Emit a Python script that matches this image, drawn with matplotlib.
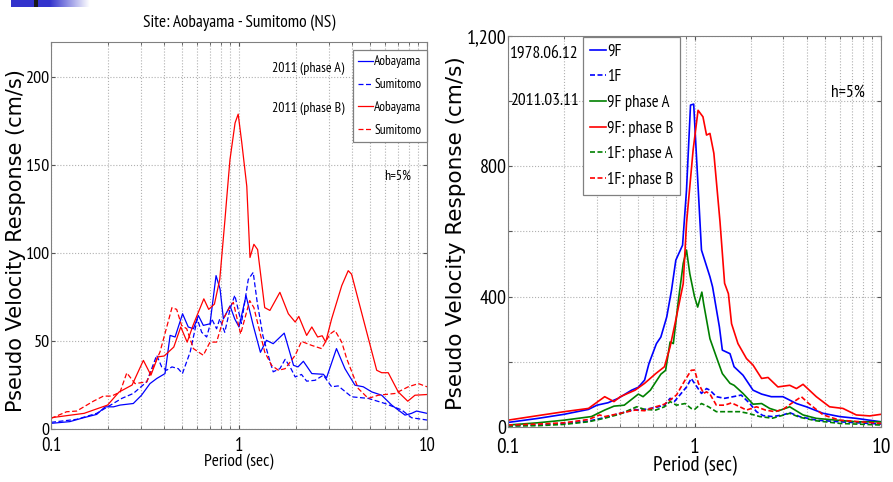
import numpy as np
import matplotlib.pyplot as plt
from matplotlib import font_manager
from matplotlib.ticker import FixedLocator, NullFormatter

# the reference uses a condensed Arial-like face; take the first one installed
avail = {f.name for f in font_manager.fontManager.ttflist}
cands = ['Liberation Sans Narrow', 'Arial Narrow', 'PT Sans Narrow', 'Roboto Condensed',
         'Archivo Narrow', 'Open Sans Condensed']
narrow = [n for n in cands if n in avail][:1] + ['Liberation Sans', 'DejaVu Sans']

# ---- left panel: Aobayama / Sumitomo (NS), 2011 ----
aob_a_T = [0.1, 0.126, 0.149, 0.175, 0.194, 0.215, 0.233, 0.274, 0.303, 0.336, 0.365, 0.404, 0.43, 0.457,
           0.501, 0.537, 0.572, 0.608, 0.646, 0.701, 0.755, 0.793, 0.826, 0.896, 0.949, 1.0, 1.09, 1.19,
           1.3, 1.4, 1.52, 1.74, 1.95, 2.06, 2.2, 2.44, 2.81, 2.92, 3.3, 3.66, 4.14, 4.58, 5.08, 5.74,
           6.49, 7.64, 8.28, 8.8, 10]
aob_a_v = [3.2, 4.2, 6.4, 8.3, 12.6, 12.6, 13.6, 14.5, 19.2, 25.8, 28.7, 31.5, 53.2, 52.3,
           65.5, 58, 57, 64.5, 58.9, 59.8, 87.2, 79.6, 62.6, 70, 62.6, 58, 75.8, 58.9,
           43.6, 50.4, 48.5, 54.5, 36.2, 35.3, 38.5, 31.5, 31.1, 29, 45.7, 34.3, 24.9, 24, 21.1, 19.2,
           13.6, 7.9, 8.9, 10.2, 8.9]

sum_a_T = [0.1, 0.137, 0.175, 0.2, 0.238, 0.274, 0.323, 0.365, 0.388, 0.412, 0.44, 0.475, 0.5, 0.55,
           0.6, 0.633, 0.673, 0.716, 0.76, 0.79, 0.84, 0.896, 0.95, 1.03, 1.12, 1.19, 1.25, 1.34,
           1.43, 1.52, 1.65, 1.76, 1.87, 1.99, 2.15, 2.29, 2.54, 2.81, 3.11, 3.37, 3.97, 4.87, 5.98,
           7.34, 8.28, 10]
sum_a_v = [3.8, 5.5, 8.9, 12.6, 17.4, 20.2, 26.8, 41.9, 35.3, 33.4, 35.3, 34.3, 31.5, 43.8,
           62.6, 55, 52.3, 62.6, 57, 62.6, 55, 68.3, 76, 60, 85, 89, 72, 53,
           41.9, 32.5, 34.3, 39.6, 35.3, 29.6, 31, 27.2, 27.7, 30.6, 24, 24.5, 18.3, 17.4, 14.5,
           10.8, 6.4, 5.1]

aob_b_T = [0.1, 0.15, 0.2, 0.23, 0.27, 0.31, 0.34, 0.37, 0.4, 0.45, 0.49, 0.53, 0.57, 0.65, 0.69, 0.74,
           0.79, 0.842, 0.86, 0.895, 0.953, 0.99, 1.034, 1.1, 1.144, 1.2, 1.256, 1.37, 1.46, 1.65,
           1.83, 1.99, 2.08, 2.29, 2.44, 2.62, 2.77, 2.89, 3.11, 3.52, 3.81, 3.97, 4.58, 5.4, 5.74,
           6.22, 7.04, 7.9, 8.63, 10]
aob_b_v = [6.4, 8.9, 13.6, 21, 25, 39, 30.6, 41, 41.5, 46.6, 58, 49.4, 59, 74, 68, 71,
           85, 119, 131, 153, 174, 179, 163, 138, 97.5, 105, 102, 69, 67.4, 77.7,
           65.5, 60.8, 64, 53.2, 58, 52.3, 53, 49.4, 62.6, 81.5, 90, 88, 62.6, 33.4, 32,
           32, 21, 15.8, 19.2, 19.6]

sum_b_T = [0.1, 0.121, 0.137, 0.168, 0.19, 0.21, 0.233, 0.253, 0.28, 0.323, 0.38, 0.44, 0.466, 0.495,
           0.527, 0.572, 0.646, 0.701, 0.76, 0.826, 0.9, 0.933, 1.02, 1.14, 1.2, 1.37, 1.49, 1.62,
           1.76, 1.99, 2.15, 2.44, 2.75, 3.05, 3.24, 3.52, 3.74, 4.31, 4.87, 5.51, 6.77, 7.95, 9.0, 10]
sum_b_v = [6, 9.8, 10.2, 15.8, 18.7, 18.7, 21, 31.9, 25.8, 26.8, 43.8, 69, 68, 58.9,
           57, 45.7, 41.9, 49.4, 49.4, 62.6, 70, 72, 54, 73, 69, 43.8, 36.2, 33.4,
           34.3, 41.9, 49.8, 47.5, 45.7, 54, 56, 49.4, 40, 23, 17.4, 19.2, 20.2, 24, 25.8, 24]

# ---- right panel: 9F / 1F, 1978.06.12 and 2011.03.11 ----
f9_78_T = [0.1, 0.145, 0.2, 0.27, 0.3, 0.344, 0.39, 0.46, 0.5, 0.54, 0.57, 0.625, 0.66, 0.71, 0.753,
           0.794, 0.863, 0.906, 0.952, 0.99, 1.025, 1.09, 1.21, 1.25, 1.36, 1.41, 1.55, 1.63, 1.82,
           2.06, 2.29, 2.58, 2.98, 3.52, 3.98, 4.89, 6.0, 7.37, 10]
f9_78_v = [14, 26.5, 39, 54, 67, 74.5, 88, 113, 122, 144, 195, 256, 276, 338, 420,
           512, 558, 727, 988, 991, 829, 543, 461, 430, 307, 236, 225, 185, 159,
           113, 101, 93, 93, 72, 62, 42, 32, 26.5, 16]

f1_78_T = [0.1, 0.145, 0.2, 0.27, 0.33, 0.4, 0.48, 0.5, 0.54, 0.62, 0.69, 0.74, 0.78, 0.82, 0.91,
           0.96, 1.0, 1.09, 1.16, 1.21, 1.31, 1.45, 1.61, 1.78, 1.98, 2.15, 2.33, 2.62, 2.98, 3.24,
           3.66, 4.5, 6.0, 10]
f1_78_v = [4, 6, 11, 18, 29, 42, 54, 52, 54, 60, 67, 88, 78, 93, 124,
           149, 134, 103, 118, 113, 93, 88, 93, 98, 72, 47, 35, 32, 37, 44,
           32, 21, 16, 9]

f9_a_T = [0.1, 0.145, 0.2, 0.28, 0.33, 0.37, 0.42, 0.5, 0.53, 0.58, 0.66, 0.7, 0.74, 0.77, 0.82,
          0.87, 0.906, 0.944, 1.0, 1.04, 1.095, 1.12, 1.21, 1.31, 1.41, 1.55, 1.63, 1.82, 2.06,
          2.29, 2.53, 2.8, 3.24, 3.82, 4.5, 5.77, 7.37, 10]
f9_a_v = [6, 13, 21, 32, 52, 64, 67, 101, 93, 113, 162, 174, 261, 256, 389,
          502, 543, 470, 400, 368, 414, 378, 271, 215, 164, 134, 128, 103, 70,
          72, 57, 49, 62, 37, 26.5, 21, 16, 16]

f9_b_T = [0.1, 0.145, 0.2, 0.27, 0.33, 0.37, 0.4, 0.48, 0.54, 0.62, 0.69, 0.74, 0.8, 0.87, 0.906,
          0.983, 1.045, 1.11, 1.16, 1.21, 1.27, 1.37, 1.45, 1.52, 1.58, 1.71, 1.9, 2.06, 2.29,
          2.48, 2.8, 3.24, 3.52, 3.82, 4.5, 5.3, 6.25, 7.37, 8.7, 10]
f9_b_v = [21, 35, 47, 57, 93, 78, 93, 113, 134, 164, 185, 246, 338, 440, 625,
          850, 972, 952, 896, 901, 840, 630, 441, 409, 317, 256, 210, 190, 149,
          152, 123, 128, 118, 131, 93, 62, 57, 37, 34, 39]

f1_a_T = [0.1, 0.145, 0.2, 0.27, 0.33, 0.4, 0.49, 0.54, 0.62, 0.69, 0.74, 0.8, 0.89, 0.96, 1.0,
          1.09, 1.19, 1.31, 1.5, 1.75, 1.94, 2.24, 2.62, 3.24, 3.66, 4.5, 6.0, 10]
f1_a_v = [3, 4, 8, 16, 27, 40, 62, 54, 52, 62, 78, 67, 72, 57, 54,
          72, 62, 47, 47, 47, 42, 32, 27, 42, 30, 19, 11, 6]

f1_b_T = [0.1, 0.145, 0.2, 0.27, 0.31, 0.33, 0.4, 0.48, 0.54, 0.62, 0.69, 0.74, 0.8, 0.89, 0.96,
          1.0, 1.05, 1.12, 1.16, 1.21, 1.31, 1.45, 1.58, 1.75, 1.9, 2.15, 2.4, 2.7, 3.0, 3.3,
          3.74, 4.1, 4.9, 6.0, 10]
f1_b_v = [6, 9, 13, 23, 37, 32, 42, 52, 50, 62, 70, 83, 98, 144, 174,
          175, 134, 103, 108, 101, 67, 67, 74, 62, 52, 62, 52, 47, 55, 72,
          93, 72, 37, 21, 11]

W, H = 893, 482
fig = plt.figure(figsize=(W / 100, H / 100), dpi=100)


def box(l, t, r, b):
    return [l / W, 1 - b / H, (r - l) / W, (b - t) / H]


def style_axes(ax, ymax, ystep, ylabels, fs_y, fs_x, fs_lab, xpad):
    ax.set_xscale('log')
    ax.set_xlim(0.1, 10)
    ax.set_ylim(0, ymax)
    ax.xaxis.set_major_locator(FixedLocator([0.1, 1, 10]))
    ax.set_xticklabels(['0.1', '1', '10'], family=narrow, fontsize=fs_x)
    ax.xaxis.set_minor_locator(FixedLocator([k * 10.0 ** e for e in (-1, 0) for k in range(2, 10)]))
    ax.xaxis.set_minor_formatter(NullFormatter())
    ax.set_yticks(np.arange(0, ymax + 1, ystep))
    ax.set_yticklabels(ylabels, family=narrow, fontsize=fs_y)
    ax.grid(True, which='major', ls=':', color='#b0b0b0', lw=0.8)
    ax.grid(True, which='minor', axis='x', ls=':', color='#b0b0b0', lw=0.8)
    ax.tick_params(which='both', direction='in', top=True, right=True, length=3, color='#555555')
    ax.tick_params(axis='y', pad=1)
    ax.tick_params(axis='x', pad=xpad)
    ax.tick_params(which='minor', length=2)
    for s in ax.spines.values():
        s.set_color('#808080')
    ax.set_xlabel('Period (sec)', family=narrow, fontsize=fs_lab, labelpad=-1)


# ---------------- left ----------------
ax1 = fig.add_axes(box(51, 42, 427, 429))
l1, = ax1.plot(aob_a_T, aob_a_v, color='blue', lw=0.9)
l2, = ax1.plot(sum_a_T, sum_a_v, color='blue', lw=0.9, ls=(0, (4, 2)))
l3, = ax1.plot(aob_b_T, aob_b_v, color='red', lw=0.9)
l4, = ax1.plot(sum_b_T, sum_b_v, color='red', lw=0.9, ls=(0, (4, 2)))
style_axes(ax1, 220, 50, ['0', '50', '100', '150', '200'], 13, 13.5, 12.5, 6)
ax1.set_title('Site: Aobayama - Sumitomo (NS)', family=narrow, fontsize=12.5, pad=11)
ax1.set_ylabel('Pseudo Velocity Response (cm/s)', family='DejaVu Sans', fontsize=15)
ax1.yaxis.set_label_coords(-0.066, 0.488)
leg1 = ax1.legend([l1, l2, l3, l4], ['Aobayama', 'Sumitomo', 'Aobayama', 'Sumitomo'],
                  loc='upper right', bbox_to_anchor=(1.0, 1 - 8 / 387), borderaxespad=0, frameon=True,
                  fancybox=False, edgecolor='#808080', framealpha=1, handlelength=1.1,
                  handletextpad=0.1, labelspacing=0.74, borderpad=0.4,
                  prop={'family': narrow, 'size': 9.6})
leg1.get_frame().set_linewidth(0.9)
ax1.text(0.78, 0.932, '2011 (phase A)', transform=ax1.transAxes, ha='right', va='center',
         family=narrow, fontsize=10)
ax1.text(0.78, 0.829, '2011 (phase B)', transform=ax1.transAxes, ha='right', va='center',
         family=narrow, fontsize=10)
ax1.text(0.921, 0.654, 'h=5%', transform=ax1.transAxes, ha='center', va='center',
         family=narrow, fontsize=10)

# ---------------- right ----------------
ax2 = fig.add_axes(box(508, 36, 881, 427))
r1, = ax2.plot(f9_78_T, f9_78_v, color='blue', lw=1.2)
r2, = ax2.plot(f1_78_T, f1_78_v, color='blue', lw=1.2, ls=(0, (3, 1.5)))
r3, = ax2.plot(f9_a_T, f9_a_v, color='green', lw=1.2)
r4, = ax2.plot(f9_b_T, f9_b_v, color='red', lw=1.2)
r5, = ax2.plot(f1_a_T, f1_a_v, color='green', lw=1.2, ls=(0, (3, 1.5)))
r6, = ax2.plot(f1_b_T, f1_b_v, color='red', lw=1.2, ls=(0, (3, 1.5)))
style_axes(ax2, 1200, 200, ['0', '', '400', '', '800', '', '1,200'], 14.5, 15.5, 15, 8)
ax2.set_ylabel('Pseudo Velocity Response (cm/s)', family='DejaVu Sans', fontsize=15.5)
ax2.yaxis.set_label_coords(-0.112, 0.495)
leg2 = ax2.legend([r1, r2, r3, r4, r5, r6],
                  ['9F', '1F', '9F phase A', '9F: phase B', '1F: phase A', '1F: phase B'],
                  loc='upper left', bbox_to_anchor=(0.201, 1 - 1 / 391), borderaxespad=0, frameon=True,
                  fancybox=False, edgecolor='#808080', framealpha=1, handlelength=1.0,
                  handletextpad=0.05, labelspacing=0.58, borderpad=0.4,
                  prop={'family': narrow, 'size': 12})
leg2.get_frame().set_linewidth(0.9)
ax2.text(0.189, 0.956, '1978.06.12', transform=ax2.transAxes, ha='right', va='center',
         family=narrow, fontsize=12.5)
ax2.text(0.189, 0.834, '2011.03.11', transform=ax2.transAxes, ha='right', va='center',
         family=narrow, fontsize=12.5)
ax2.text(0.91, 0.855, 'h=5%', transform=ax2.transAxes, ha='center', va='center',
         family=narrow, fontsize=12.5)

# slide header decoration (blue fading bar, top-left)
deco = fig.add_axes(box(11, 0, 91, 7))
xs = np.linspace(0, 80, 160)
fade = np.clip((xs - 39) / 40, 0, 1)
rgb = np.zeros((1, xs.size, 3))
base = np.array([0.2, 0.2, 0.8])
rgb[0] = base * (1 - fade[:, None]) + fade[:, None]
rgb[0][(xs >= 23) & (xs <= 27)] = [0.1, 0.1, 0.1]
deco.imshow(rgb, aspect='auto', interpolation='nearest')
deco.axis('off')

fig.savefig('out.png', dpi=100)
